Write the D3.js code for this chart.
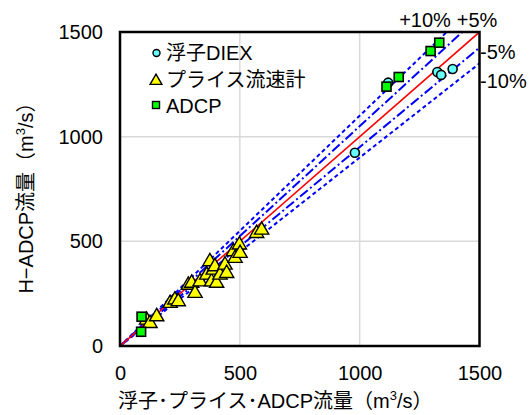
<!DOCTYPE html>
<html>
<head>
<meta charset="utf-8">
<script src="https://cdn.jsdelivr.net/npm/d3@7"></script>
<style>
  html, body { margin: 0; padding: 0; background: #fff; }
  svg { display: block; font-family: "Liberation Sans", Arial, "Noto Sans CJK JP", sans-serif; }
</style>
</head>
<body>
<svg id="chart" width="532" height="415"></svg>
<script>
// Float (DIEX) measurements: reference discharge vs H-ADCP discharge (m3/s)
const floatQ  = [980, 1119, 1324, 1340, 1388];
const floatH  = [923, 1258, 1309, 1295, 1323];
// Price current meter measurements
const priceQ = [111, 125, 153, 209, 229, 243, 285, 299, 313, 334, 362, 375, 382, 389, 396, 403, 417, 438, 445, 473, 480, 498, 501, 570, 591];
const priceH = [124, 108, 140, 204, 220, 212, 291, 300, 252, 307, 339, 403, 307, 363, 379, 300, 339, 387, 347, 451, 419, 483, 443, 538, 554];
// ADCP measurements
const adcpQ = [88, 90, 1112, 1163, 1296, 1332];
const adcpH = [68, 140, 1239, 1285, 1409, 1449];

const axisTicks = [0, 500, 1000, 1500];
const gridTicks = [500, 1000];
// Error bands around the 1:1 line
const bandRatios = [1.10, 1.05, 0.95, 0.90];
const bandDash   = ["4,3", "10,3,2,3", "10,3,2,3", "4,3"];

const legendNames = ["浮子DIEX", "プライス流速計", "ADCP"];

const svg = d3.select("#chart");
const L = 120, R = 479.5, T = 32, B = 346;
const x = d3.scaleLinear().domain([0, 1500]).range([L, R]);
const y = d3.scaleLinear().domain([0, 1500]).range([B, T]);
const fs = 20;

// grid
svg.append("g").selectAll("line").data(gridTicks).join("line")
  .attr("x1", d => x(d)).attr("x2", d => x(d)).attr("y1", T).attr("y2", B)
  .attr("stroke", "#d9d9d9").attr("stroke-width", 1.5);
svg.append("g").selectAll("line").data(gridTicks).join("line")
  .attr("y1", d => y(d)).attr("y2", d => y(d)).attr("x1", L).attr("x2", R)
  .attr("stroke", "#d9d9d9").attr("stroke-width", 1.5);

// clip region for reference lines
svg.append("clipPath").attr("id", "plotClip").append("rect")
  .attr("x", L).attr("y", T).attr("width", R - L).attr("height", B - T);

const lines = svg.append("g").attr("clip-path", "url(#plotClip)");
bandRatios.forEach((k, i) => {
  lines.append("line")
    .attr("x1", x(0)).attr("y1", y(0)).attr("x2", x(1500)).attr("y2", y(1500 * k))
    .attr("stroke", "#0000ff").attr("stroke-width", 2)
    .attr("stroke-dasharray", bandDash[i]);
});
lines.append("line")
  .attr("x1", x(0)).attr("y1", y(0)).attr("x2", x(1500)).attr("y2", y(1500))
  .attr("stroke", "#ff0000").attr("stroke-width", 1.6);

// markers
const sym = (type, size) => d3.symbol().type(type).size(size)();
const pts = svg.append("g");
pts.selectAll("circle").data(floatQ).join("circle")
  .attr("cx", d => x(d)).attr("cy", (d, i) => y(floatH[i])).attr("r", 4.5)
  .attr("fill", "#66ffff").attr("stroke", "#000").attr("stroke-width", 1.6);
pts.selectAll("path").data(priceQ).join("path")
  .attr("d", sym(d3.symbolTriangle, 88))
  .attr("transform", (d, i) => `translate(${x(d)},${y(priceH[i])})`)
  .attr("fill", "#ffff00").attr("stroke", "#000").attr("stroke-width", 1.4);
pts.selectAll("rect").data(adcpQ).join("rect")
  .attr("x", d => x(d) - 4.5).attr("y", (d, i) => y(adcpH[i]) - 4.5)
  .attr("width", 9).attr("height", 9)
  .attr("fill", "#00ff00").attr("stroke", "#000").attr("stroke-width", 1.6);

// frame
svg.append("rect").attr("x", L).attr("y", T).attr("width", R - L).attr("height", B - T)
  .attr("fill", "none").attr("stroke", "#000").attr("stroke-width", 2.5);

// axes (labels only)
const fmt = d3.format("d");
const xAxis = d3.axisBottom(x).tickValues(axisTicks).tickFormat(fmt).tickSize(0).tickPadding(20);
const gx = svg.append("g").attr("transform", `translate(0,${B})`).call(xAxis);
gx.select(".domain").remove();
gx.selectAll("text").attr("font-size", fs).attr("fill", "#000").attr("font-family", null);

const yAxis = d3.axisLeft(y).tickValues(axisTicks).tickFormat(fmt).tickSize(0).tickPadding(17);
const gy = svg.append("g").attr("transform", `translate(${L},0)`).call(yAxis);
gy.select(".domain").remove();
gy.selectAll("text").attr("font-size", fs).attr("fill", "#000").attr("font-family", null);

// axis titles
const xt = svg.append("text").attr("x", 118).attr("y", 408).attr("font-size", fs).attr("fill", "#000");
xt.append("tspan").text("浮子･プライス･ADCP流量（m");
xt.append("tspan").attr("dy", -8).attr("font-size", 13).text("3");
xt.append("tspan").attr("dy", 8).text("/s）");

const yt = svg.append("text").attr("transform", `translate(33,${(T + B) / 2 + 4}) rotate(-90)`)
  .attr("text-anchor", "middle").attr("font-size", fs).attr("fill", "#000");
yt.append("tspan").text("H−ADCP流量（m");
yt.append("tspan").attr("dy", -8).attr("font-size", 13).text("3");
yt.append("tspan").attr("dy", 8).text("/s）");

// band labels
const lbl = svg.append("g").attr("font-size", fs).attr("fill", "#000");
lbl.append("text").attr("x", 425).attr("y", 27).attr("text-anchor", "middle").text("+10%");
lbl.append("text").attr("x", 477).attr("y", 27).attr("text-anchor", "middle").text("+5%");
lbl.append("text").attr("x", 480).attr("y", 59).text("-5%");
lbl.append("text").attr("x", 480).attr("y", 88).text("-10%");

// legend
const lg = svg.append("g");
const rows = [53, 80, 106];
lg.append("circle").attr("cx", 156.5).attr("cy", rows[0]).attr("r", 3.5)
  .attr("fill", "#66ffff").attr("stroke", "#000").attr("stroke-width", 1.4);
lg.append("path").attr("d", sym(d3.symbolTriangle, 60))
  .attr("transform", `translate(156,${rows[1] + 1})`)
  .attr("fill", "#ffff00").attr("stroke", "#000").attr("stroke-width", 1.4);
lg.append("rect").attr("x", 152.5).attr("y", rows[2] - 4.5).attr("width", 7).attr("height", 7)
  .attr("fill", "#00ff00").attr("stroke", "#000").attr("stroke-width", 1.4);
lg.selectAll("text").data(legendNames).join("text")
  .attr("x", 166).attr("y", (d, i) => rows[i]).attr("dy", "0.35em")
  .attr("font-size", fs).attr("fill", "#000").text(d => d);
</script>
</body>
</html>
